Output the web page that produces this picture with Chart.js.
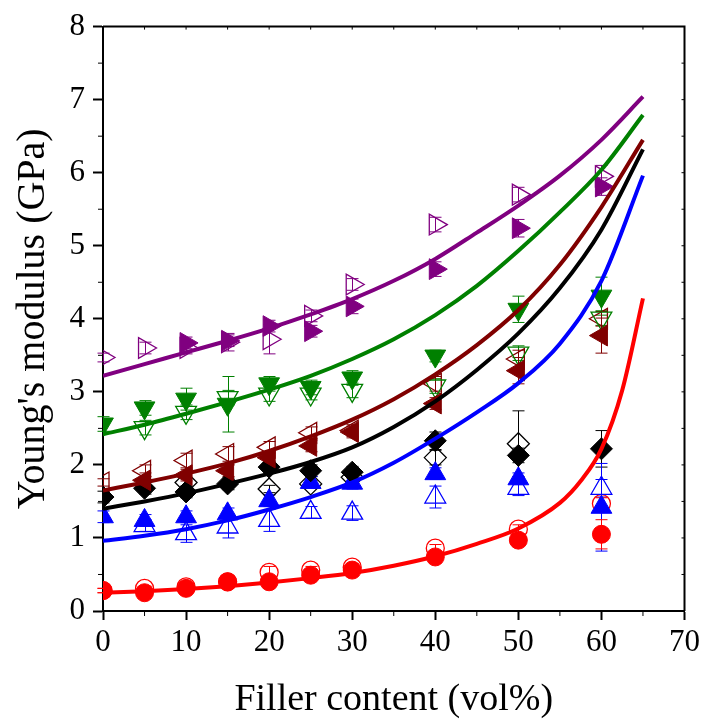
<!DOCTYPE html>
<html>
<head>
<meta charset="utf-8">
<script src="https://cdn.jsdelivr.net/npm/chart.js@4.4.0/dist/chart.umd.min.js"></script>
<style>
  html, body { margin: 0; padding: 0; background: #fff; }
  #wrap { width: 704px; height: 719px; }
</style>
</head>
<body>
<div id="wrap"><canvas id="chart" width="704" height="719"></canvas></div>
<script>
// filler content (vol%) of the measured samples
const fillerX = [0, 5, 10, 15, 20, 25, 30, 40, 50, 60];

// measured modulus (GPa), filled and open markers per system
const purpleFilled = [null, null, 3.67, 3.70, 3.90, 3.83, 4.17, 4.68, 5.24, 5.81];
const purpleOpen   = [3.47, 3.60, 3.60, 3.68, 3.72, 4.04, 4.47, 5.29, 5.70, 5.95];
const greenFilled  = [2.56, 2.78, 2.90, 2.83, 3.11, 3.06, 3.19, 3.49, 4.13, 4.31];
const greenOpen    = [null, 2.51, 2.72, 2.92, 2.97, 2.97, 3.02, 3.08, 3.53, 4.01];
const maroonFilled = [null, 1.79, 1.86, 1.92, 2.10, 2.26, 2.45, 2.84, 3.29, 3.77];
const maroonOpen   = [1.76, 1.92, 2.06, 2.15, 2.24, 2.44, 2.47, 3.11, 3.45, 4.00];
const blackFilled  = [1.56, 1.68, 1.63, 1.74, 1.97, 1.92, 1.90, 2.33, 2.13, 2.22];
const blackOpen    = [null, null, 1.76, null, 1.67, 1.74, 1.83, 2.10, 2.29, null];
const blueFilled   = [1.29, 1.24, 1.29, 1.33, 1.51, 1.76, 1.75, 1.88, 1.81, 1.42];
const blueOpen     = [null, 1.17, 1.06, 1.15, 1.24, 1.35, 1.34, 1.56, 1.68, 1.68];
const redFilled    = [0.28, 0.25, 0.31, 0.40, 0.40, 0.49, 0.56, 0.74, 0.97, 1.05];
const redOpen      = [0.28, 0.31, 0.33, 0.40, 0.53, 0.56, 0.60, 0.86, 1.12, 1.47];

// error bars (± GPa)
const purpleFilledErr = [null, null, 0.08, 0.08, 0.08, 0.08, 0.10, 0.10, 0.12, 0.12];
const purpleOpenErr   = [0.06, 0.08, 0.08, 0.12, 0.20, 0.08, 0.08, 0.10, 0.10, 0.15];
const greenFilledErr  = [0.10, 0.10, 0.15, 0.38, 0.10, 0.10, 0.10, 0.08, 0.18, 0.26];
const greenOpenErr    = [null, 0.10, 0.10, 0.10, 0.10, 0.08, 0.10, 0.10, 0.10, 0.10];
const maroonFilledErr = [null, 0.10, 0.08, 0.08, 0.08, 0.08, 0.08, 0.08, 0.18, 0.24];
const maroonOpenErr   = [0.05, 0.08, 0.10, 0.10, 0.08, 0.08, 0.08, 0.10, 0.12, 0.10];
const blackFilledErr  = [0.08, 0.08, 0.08, 0.08, 0.08, 0.08, 0.08, 0.12, 0.10, 0.25];
const blackOpenErr    = [null, null, 0.05, null, 0.05, 0.05, 0.05, 0.10, 0.45, null];
const blueFilledErr   = [0.08, 0.08, 0.08, 0.08, 0.08, 0.08, 0.08, 0.08, 0.08, 0.60];
const blueOpenErr     = [null, 0.08, 0.12, 0.15, 0.15, 0.08, 0.10, 0.15, 0.10, 0.12];
const redFilledErr    = [0.03, 0.03, 0.03, 0.05, 0.05, 0.05, 0.05, 0.05, 0.06, 0.20];
const redOpenErr      = [0.03, 0.03, 0.03, 0.05, 0.08, 0.05, 0.05, 0.05, 0.06, 0.08];

// model curves
const fitX = [0, 5, 10, 15, 20, 25, 30, 35, 40, 45, 50, 55, 60, 65];
const purpleFit = [3.22, 3.38, 3.54, 3.70, 3.87, 4.06, 4.27, 4.52, 4.82, 5.18, 5.55, 5.96, 6.45, 7.04];
const greenFit  = [2.42, 2.55, 2.70, 2.86, 3.03, 3.22, 3.45, 3.72, 4.05, 4.45, 4.93, 5.46, 6.04, 6.79];
const maroonFit = [1.65, 1.76, 1.88, 2.02, 2.19, 2.39, 2.62, 2.90, 3.24, 3.64, 4.12, 4.74, 5.53, 6.45];
const blackFit  = [1.40, 1.50, 1.61, 1.74, 1.88, 2.04, 2.24, 2.52, 2.87, 3.30, 3.80, 4.42, 5.22, 6.32];
const blueFit   = [0.96, 1.03, 1.12, 1.24, 1.39, 1.56, 1.76, 2.03, 2.36, 2.72, 3.12, 3.66, 4.52, 5.96];
const redFitX = [0, 5, 10, 15, 20, 25, 30, 35, 40, 45, 50, 55, 57.5, 60, 62.5, 65];
const redFit  = [0.25, 0.27, 0.30, 0.34, 0.39, 0.45, 0.52, 0.62, 0.75, 0.92, 1.13, 1.48, 1.78, 2.22, 3.02, 4.28];

const xTicks = [0, 10, 20, 30, 40, 50, 60, 70];
const yTicks = [0, 1, 2, 3, 4, 5, 6, 7, 8];

const PURPLE = "#800080", GREEN = "#008000", MAROON = "#800000";
const BLACK = "#000000", BLUE = "#0000ff", RED = "#ff0000";

const toPoints = (xs, ys) =>
  xs.map((x, i) => ({ x, y: ys[i] })).filter((p) => p.y !== null);

function markerSet(ys, errs, color, style, rotation, radius, filled) {
  return {
    data: toPoints(fillerX, ys),
    errors: errs.filter((e, i) => ys[i] !== null),
    showLine: false,
    pointStyle: style,
    rotation,
    pointRadius: radius,
    pointBorderColor: color,
    pointBackgroundColor: filled ? color : "rgba(0,0,0,0)",
    pointBorderWidth: filled ? 1 : 1.3,
    borderColor: color,
    order: filled ? 2 : 3,
  };
}

function fitSet(xs, ys, color) {
  return {
    data: toPoints(xs, ys),
    showLine: true,
    borderColor: color,
    borderWidth: 4,
    pointRadius: 0,
    cubicInterpolationMode: "monotone",
    fill: false,
    order: 1,
  };
}

const datasets = [
  fitSet(fitX, purpleFit, PURPLE),
  fitSet(fitX, greenFit, GREEN),
  fitSet(fitX, maroonFit, MAROON),
  fitSet(fitX, blackFit, BLACK),
  fitSet(fitX, blueFit, BLUE),
  fitSet(redFitX, redFit, RED),
  markerSet(purpleFilled, purpleFilledErr, PURPLE, "triangle", 90, 12, true),
  markerSet(purpleOpen, purpleOpenErr, PURPLE, "triangle", 90, 12, false),
  markerSet(greenFilled, greenFilledErr, GREEN, "triangle", 180, 12, true),
  markerSet(greenOpen, greenOpenErr, GREEN, "triangle", 180, 12, false),
  markerSet(maroonFilled, maroonFilledErr, MAROON, "triangle", -90, 12, true),
  markerSet(maroonOpen, maroonOpenErr, MAROON, "triangle", -90, 12, false),
  markerSet(blackFilled, blackFilledErr, BLACK, "rectRot", 0, 11, true),
  markerSet(blackOpen, blackOpenErr, BLACK, "rectRot", 0, 11, false),
  markerSet(blueFilled, blueFilledErr, BLUE, "triangle", 0, 12, true),
  markerSet(blueOpen, blueOpenErr, BLUE, "triangle", 0, 12, false),
  markerSet(redFilled, redFilledErr, RED, "circle", 0, 9, true),
  markerSet(redOpen, redOpenErr, RED, "circle", 0, 9, false),
];

// error bars drawn under the markers
const errorBars = {
  id: "errorBars",
  beforeDatasetsDraw(chart) {
    const { ctx, scales: { x, y } } = chart;
    ctx.save();
    ctx.lineWidth = 1;
    chart.data.datasets.forEach((ds) => {
      if (!ds.errors) return;
      ctx.strokeStyle = ds.borderColor;
      ds.data.forEach((p, i) => {
        const e = ds.errors[i];
        if (!e) return;
        const px = Math.round(x.getPixelForValue(p.x)) + 0.5;
        const top = y.getPixelForValue(p.y + e);
        const bot = y.getPixelForValue(p.y - e);
        ctx.beginPath();
        ctx.moveTo(px, top); ctx.lineTo(px, bot);
        ctx.moveTo(px - 6, top); ctx.lineTo(px + 6, top);
        ctx.moveTo(px - 6, bot); ctx.lineTo(px + 6, bot);
        ctx.stroke();
      });
    });
    ctx.restore();
  },
};

// box on top/right plus minor ticks
const frame = {
  id: "frame",
  afterDraw(chart) {
    const { ctx, chartArea: a, scales: { x, y } } = chart;
    ctx.save();
    ctx.strokeStyle = "#000";
    ctx.lineWidth = 2;
    ctx.beginPath();
    ctx.moveTo(a.left, a.top); ctx.lineTo(a.right, a.top); ctx.lineTo(a.right, a.bottom);
    ctx.stroke();
    ctx.lineWidth = 1;
    ctx.beginPath();
    for (let v = 5; v < 70; v += 10) {
      const px = x.getPixelForValue(v);
      ctx.moveTo(px, a.bottom); ctx.lineTo(px, a.bottom + 5);
    }
    for (let v = 5; v < 70; v += 5) {
      const px = x.getPixelForValue(v);
      ctx.moveTo(px, a.top); ctx.lineTo(px, a.top + 3);
    }
    for (let v = 0.5; v < 8; v += 1) {
      const py = y.getPixelForValue(v);
      ctx.moveTo(a.left, py); ctx.lineTo(a.left - 5, py);
    }
    for (let v = 0.5; v < 8; v += 0.5) {
      const py = y.getPixelForValue(v);
      ctx.moveTo(a.right, py); ctx.lineTo(a.right - 3, py);
    }
    ctx.stroke();
    ctx.restore();
  },
};

Chart.defaults.font.family = "'Liberation Serif', 'Times New Roman', serif";
Chart.defaults.color = "#000";

new Chart(document.getElementById("chart"), {
  type: "scatter",
  data: { datasets },
  options: {
    responsive: false,
    animation: false,
    devicePixelRatio: 1,
    layout: { padding: { top: 24, right: 18, left: 0, bottom: 0 } },
    plugins: { legend: { display: false }, tooltip: { enabled: false } },
    scales: {
      x: {
        type: "linear",
        min: 0,
        max: 70,
        afterFit: (s) => { s.height = 108; },
        afterBuildTicks: (s) => { s.ticks = xTicks.map((v) => ({ value: v })); },
        ticks: { font: { size: 31 }, padding: 4, maxRotation: 0, color: "#000" },
        grid: { drawOnChartArea: false, tickLength: 9, tickWidth: 2, tickColor: "#000" },
        border: { color: "#000", width: 2 },
        title: {
          display: true,
          text: "Filler content (vol%)",
          color: "#000",
          font: { size: 38, lineHeight: 1 },
          padding: 0,
        },
      },
      y: {
        type: "linear",
        min: 0,
        max: 8,
        afterFit: (s) => { s.width = 103; },
        afterBuildTicks: (s) => { s.ticks = yTicks.map((v) => ({ value: v })); },
        ticks: { font: { size: 31 }, padding: 8, color: "#000" },
        grid: { drawOnChartArea: false, tickLength: 10, tickWidth: 2, tickColor: "#000" },
        border: { color: "#000", width: 2 },
        title: {
          display: true,
          text: "Young's modulus (GPa)",
          color: "#000",
          font: { size: 40, lineHeight: 1 },
          padding: { top: 13, bottom: 0 },
        },
      },
    },
  },
  plugins: [errorBars, frame],
});
</script>
</body>
</html>
